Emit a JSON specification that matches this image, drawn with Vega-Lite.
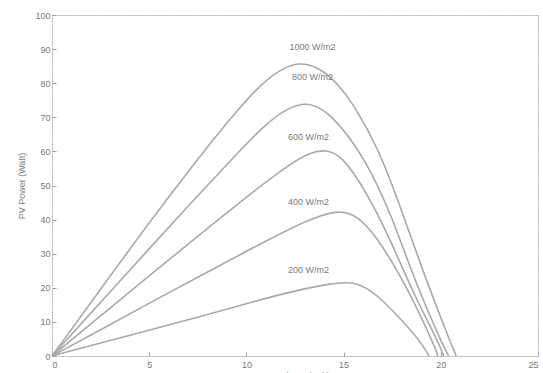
{
  "$schema": "https://vega.github.io/schema/vega-lite/v6.json",
  "autosize": {"type": "none"},
  "padding": {"left": 52, "top": 15, "right": 5, "bottom": 17},
  "width": 486,
  "height": 341,
  "background": "white",
  "config": {
    "view": {"stroke": "#a8a8a8", "strokeWidth": 1, "strokeDash": [2, 1]},
    "font": "Liberation Sans",
    "axis": {
      "grid": false,
      "domain": false,
      "tickColor": "#a0a0a0",
      "tickSize": -4,
      "labelColor": "#7a7a7a",
      "labelFontSize": 9,
      "labelOverlap": false,
      "titleColor": "#7a7a7a",
      "titleFontSize": 9,
      "titleFontWeight": "normal"
    }
  },
  "datasets": {
    "curves": [
      {"g": "1000", "v": 0, "p": 0}, {"g": "1000", "v": 2.5, "p": 19.6}, {"g": "1000", "v": 5, "p": 39.2},
      {"g": "1000", "v": 8, "p": 61.5}, {"g": "1000", "v": 9.6, "p": 72.5},
      {"g": "1000", "v": 10.8, "p": 80}, {"g": "1000", "v": 11.8, "p": 84.2}, {"g": "1000", "v": 12.7, "p": 86.2},
      {"g": "1000", "v": 13.7, "p": 84.8}, {"g": "1000", "v": 14.7, "p": 80}, {"g": "1000", "v": 15.6, "p": 73},
      {"g": "1000", "v": 16.8, "p": 60.6}, {"g": "1000", "v": 17.8, "p": 45.7}, {"g": "1000", "v": 19.0, "p": 26.1},
      {"g": "1000", "v": 20.3, "p": 6.7}, {"g": "1000", "v": 20.8, "p": 0},

      {"g": "800", "v": 0, "p": 0}, {"g": "800", "v": 2.5, "p": 15.7}, {"g": "800", "v": 5, "p": 31.5},
      {"g": "800", "v": 7.1, "p": 44.6}, {"g": "800", "v": 9.1, "p": 56.8}, {"g": "800", "v": 11.0, "p": 68.2},
      {"g": "800", "v": 12.2, "p": 73}, {"g": "800", "v": 13.2, "p": 74.6}, {"g": "800", "v": 14.4, "p": 71},
      {"g": "800", "v": 16.15, "p": 57.7}, {"g": "800", "v": 17.5, "p": 40.8}, {"g": "800", "v": 18.7, "p": 21.4},
      {"g": "800", "v": 20.05, "p": 3.8}, {"g": "800", "v": 20.4, "p": 0},

      {"g": "600", "v": 0, "p": 0}, {"g": "600", "v": 2.5, "p": 11.8}, {"g": "600", "v": 5, "p": 23.5},
      {"g": "600", "v": 7.95, "p": 37.2}, {"g": "600", "v": 10.15, "p": 47.3}, {"g": "600", "v": 12.2, "p": 56.2},
      {"g": "600", "v": 13.3, "p": 59.8}, {"g": "600", "v": 14.1, "p": 60.5}, {"g": "600", "v": 14.9, "p": 58.8},
      {"g": "600", "v": 16.15, "p": 48.5}, {"g": "600", "v": 17.5, "p": 33}, {"g": "600", "v": 18.5, "p": 19.4},
      {"g": "600", "v": 19.9, "p": 3.8}, {"g": "600", "v": 20.15, "p": 0},

      {"g": "400", "v": 0, "p": 0}, {"g": "400", "v": 2.5, "p": 7.7}, {"g": "400", "v": 5, "p": 15.5},
      {"g": "400", "v": 8, "p": 24.6}, {"g": "400", "v": 11.3, "p": 34.7}, {"g": "400", "v": 13.5, "p": 40.8},
      {"g": "400", "v": 14.8, "p": 42.8}, {"g": "400", "v": 15.7, "p": 41.2}, {"g": "400", "v": 16.7, "p": 35},
      {"g": "400", "v": 17.85, "p": 24.3}, {"g": "400", "v": 18.9, "p": 12.6}, {"g": "400", "v": 19.7, "p": 2.6},
      {"g": "400", "v": 19.85, "p": 0},

      {"g": "200", "v": 0, "p": 0}, {"g": "200", "v": 2.5, "p": 3.8}, {"g": "200", "v": 5, "p": 7.6},
      {"g": "200", "v": 8, "p": 12.1}, {"g": "200", "v": 10.5, "p": 16.2}, {"g": "200", "v": 12.7, "p": 19.4},
      {"g": "200", "v": 14.3, "p": 21.2}, {"g": "200", "v": 15.3, "p": 21.8}, {"g": "200", "v": 16.1, "p": 20.4},
      {"g": "200", "v": 16.9, "p": 16.9}, {"g": "200", "v": 17.85, "p": 11.4}, {"g": "200", "v": 18.9, "p": 4.7},
      {"g": "200", "v": 19.4, "p": 0}
    ],
    "labels": [
      {"t": "1000 W/m2", "v": 13.4, "p": 90.6},
      {"t": "800 W/m2", "v": 13.4, "p": 81.8},
      {"t": "600 W/m2", "v": 13.2, "p": 64.2},
      {"t": "400 W/m2", "v": 13.2, "p": 45.2},
      {"t": "200 W/m2", "v": 13.2, "p": 25.2}
    ]
  },
  "encoding": {
    "x": {
      "field": "v", "type": "quantitative",
      "scale": {"domain": [0, 25], "nice": false, "zero": false},
      "axis": {"values": [0, 5, 10, 15, 20, 25], "labelPadding": 8, "labelOverlap": false, "title": "PV Voltage (Volt)", "titlePadding": 2}
    },
    "y": {
      "field": "p", "type": "quantitative",
      "scale": {"domain": [0, 100], "nice": false},
      "axis": {"values": [0, 10, 20, 30, 40, 50, 60, 70, 80, 90, 100], "labelOverlap": false, "labelPadding": 6, "title": "PV Power (Watt)", "titlePadding": 8}
    }
  },
  "layer": [
    {
      "data": {"name": "curves"},
      "mark": {"type": "line", "interpolate": "basis", "color": "#a9a9a9", "strokeWidth": 1.6},
      "encoding": {
        "detail": {"field": "g", "type": "nominal"}
      }
    },
    {
      "data": {"name": "labels"},
      "mark": {"type": "text", "fontSize": 9, "color": "#7a7a7a", "align": "center", "baseline": "middle"},
      "encoding": {
        "text": {"field": "t"}
      }
    }
  ]
}
